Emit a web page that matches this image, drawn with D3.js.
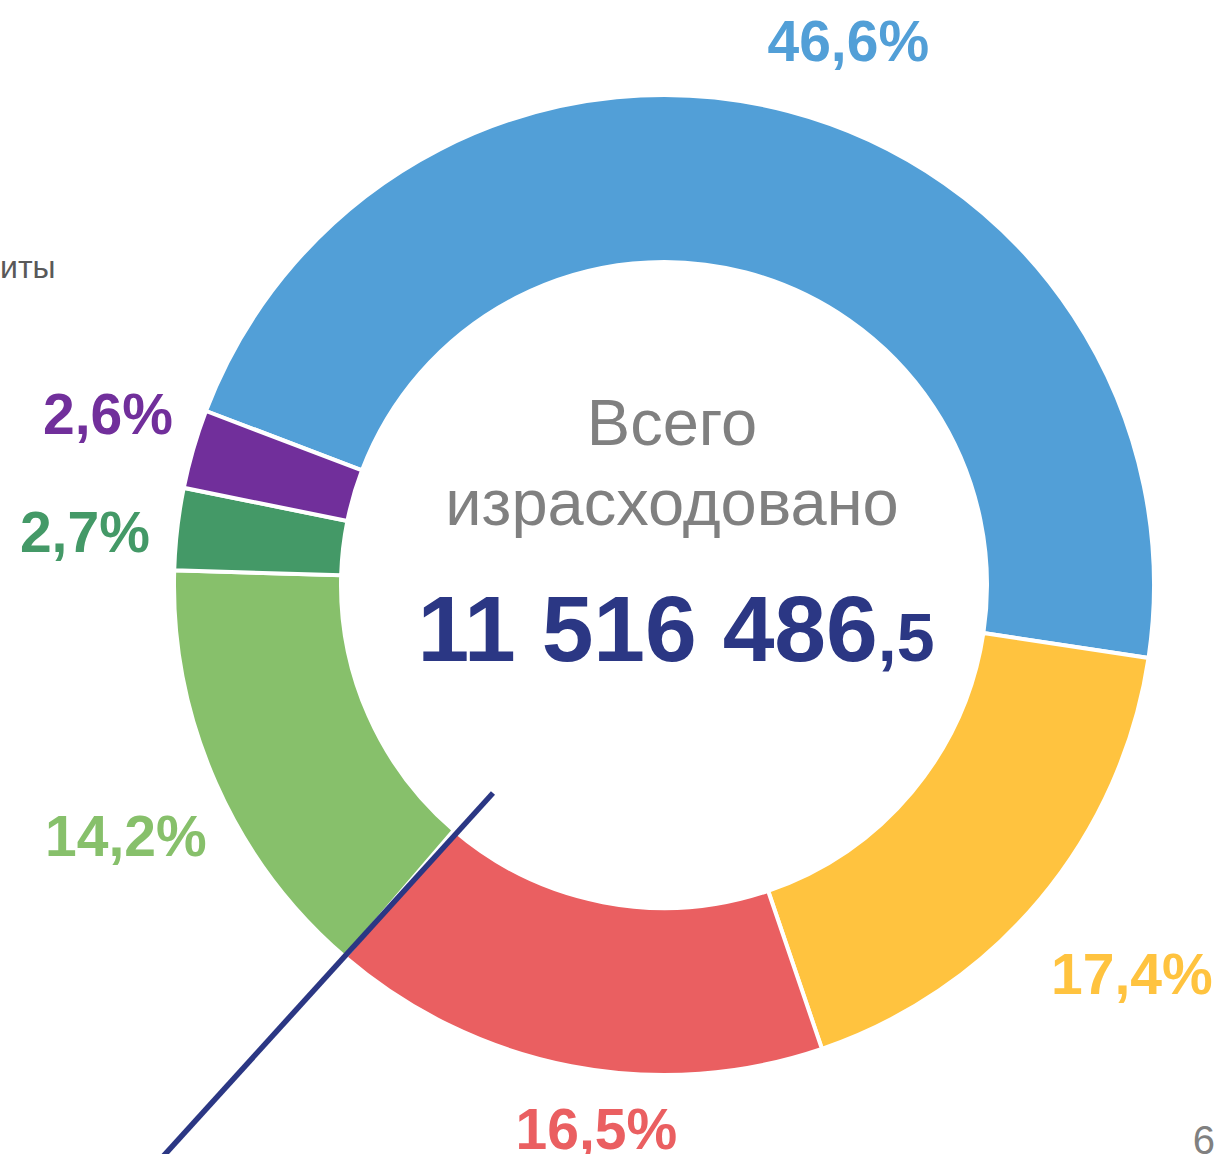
<!DOCTYPE html>
<html>
<head>
<meta charset="utf-8">
<script src="https://cdn.jsdelivr.net/npm/d3@7"></script>
<style>
  html, body { margin: 0; padding: 0; background: #fff; }
  svg { display: block; font-family: "Liberation Sans", Arial, sans-serif; }
</style>
</head>
<body>
<svg id="chart" width="1217" height="1154"></svg>
<script>
// Shares of the total (percent), clockwise from the blue slice
const categories = ['blue', 'yellow', 'red', 'lightgreen', 'darkgreen', 'purple'];
const shares = [46.6, 17.4, 16.5, 14.2, 2.7, 2.6];
const shareLabels = ['46,6%', '17,4%', '16,5%', '14,2%', '2,7%', '2,6%'];
const sliceColors = ['#529fd7', '#ffc33f', '#ea5f61', '#87c06b', '#449967', '#712f9b'];

const totalCaption = ['Всего', 'израсходовано'];
const totalMain = '11 516 486';
const totalDecimals = ',5';

// layout
const width = 1217, height = 1154;
const cx = 664, cy = 585;
const outerR = 490, innerR = 323;
const startDeg = -69.2;
const labelR = 585;
// small hand nudges so labels sit where the original put them
const labelNudge = [[36, 21], [19, 13], [43, -31], [-3, 14], [2, 13], [6, -9]];

const svg = d3.select('#chart');

const data = categories.map((c, i) => ({ name: c, value: shares[i], label: shareLabels[i], color: sliceColors[i] }));

const start = startDeg * Math.PI / 180;
const pie = d3.pie()
    .sort(null)
    .value(d => d.value)
    .startAngle(start)
    .endAngle(start + 2 * Math.PI);

const arc = d3.arc()
    .innerRadius(innerR)
    .outerRadius(outerR);

const labelArc = d3.arc()
    .innerRadius(labelR)
    .outerRadius(labelR);

const g = svg.append('g')
    .attr('transform', `translate(${cx},${cy})`);

const arcs = pie(data);

g.selectAll('path.slice')
    .data(arcs)
    .enter()
    .append('path')
    .attr('class', 'slice')
    .attr('d', arc)
    .attr('fill', d => d.data.color)
    .attr('stroke', '#fff')
    .attr('stroke-width', 4)
    .attr('stroke-linejoin', 'miter');

g.selectAll('text.pct')
    .data(arcs)
    .enter()
    .append('text')
    .attr('class', 'pct')
    .attr('x', (d, i) => labelArc.centroid(d)[0] + labelNudge[i][0])
    .attr('y', (d, i) => labelArc.centroid(d)[1] + labelNudge[i][1])
    .attr('dy', '0.36em')
    .attr('text-anchor', 'middle')
    .attr('font-size', 57)
    .attr('font-weight', 'bold')
    .attr('fill', d => d.data.color)
    .text(d => d.data.label);

// centre caption
g.selectAll('text.caption')
    .data(totalCaption)
    .enter()
    .append('text')
    .attr('class', 'caption')
    .attr('x', 8)
    .attr('y', (d, i) => -140 + i * 80)
    .attr('text-anchor', 'middle')
    .attr('font-size', 65)
    .attr('fill', '#808080')
    .text(d => d);

const total = g.append('text')
    .attr('x', 12)
    .attr('y', 76)
    .attr('text-anchor', 'middle')
    .attr('font-weight', 'bold')
    .attr('fill', '#2b3784');
total.append('tspan')
    .attr('font-size', 93)
    .text(totalMain);
total.append('tspan')
    .attr('font-size', 68)
    .text(totalDecimals);

// callout line crossing the red / green boundary
svg.append('line')
    .attr('x1', 493).attr('y1', 793)
    .attr('x2', 158).attr('y2', 1162)
    .attr('stroke', '#2b3784')
    .attr('stroke-width', 5.5);

// cut-off legend text on the left and page number
svg.append('text')
    .attr('x', 0).attr('y', 278)
    .attr('font-size', 32)
    .attr('fill', '#595959')
    .text('иты');

svg.append('text')
    .attr('x', 1215).attr('y', 1154)
    .attr('text-anchor', 'end')
    .attr('font-size', 40)
    .attr('fill', '#808080')
    .text('6');
</script>
</body>
</html>
